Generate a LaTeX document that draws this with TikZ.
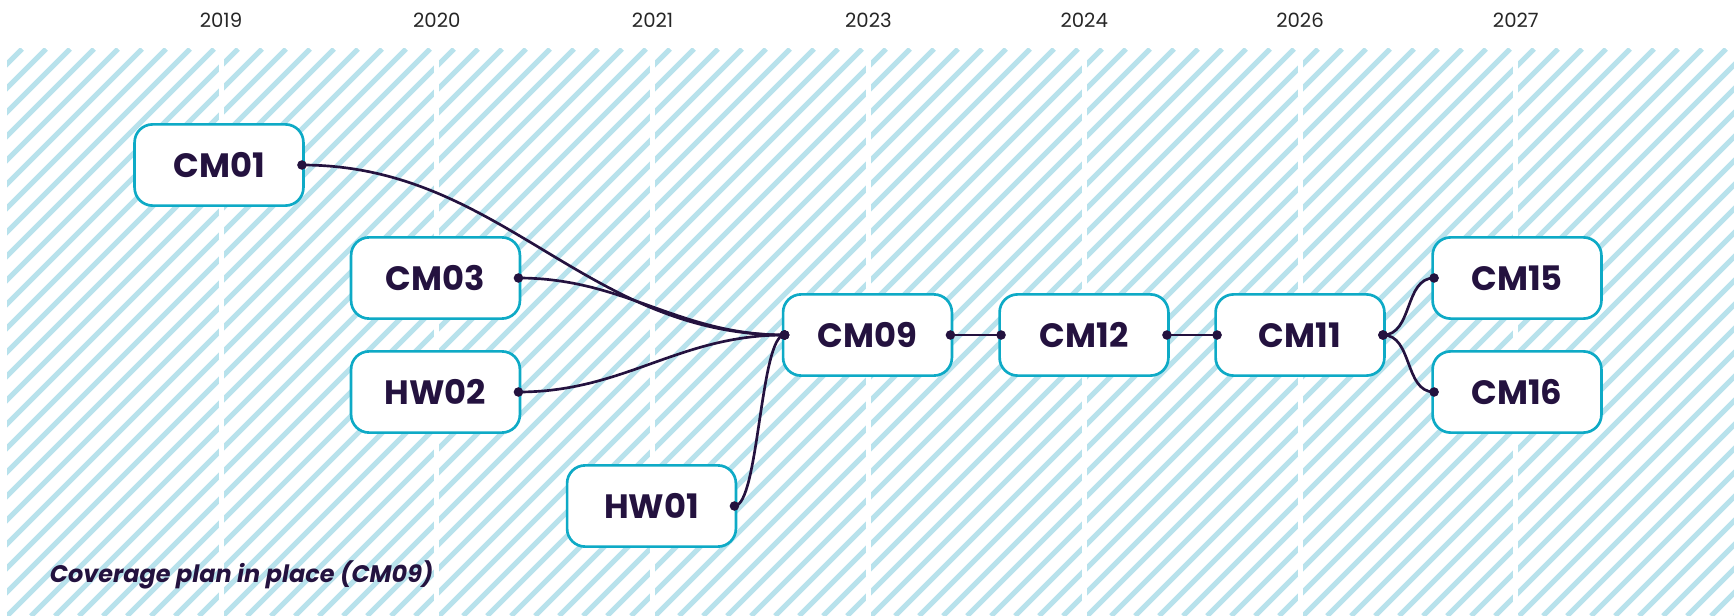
\documentclass[tikz,border=0pt]{standalone}
\usepackage{fontspec}
\setmainfont{Poppins}
\usepackage{xcolor}
\usepackage{tikz}
\usetikzlibrary{positioning}

\definecolor{ink}{HTML}{24123F}
\definecolor{boxedge}{HTML}{0EAAC6}
\definecolor{hatch}{HTML}{B8E2EC}

\begin{document}
\begin{tikzpicture}[
    x=0.025cm, y=-0.025cm,
    year/.style={font=\fontsize{14}{16}\selectfont, text=black!85},
    item/.style={draw=boxedge, line width=1.9pt, fill=white, rounded corners=0.45cm,
                 minimum width=4.22cm, minimum height=2.03cm, text=ink,
                 font=\fontsize{24}{28}\selectfont\bfseries},
    link/.style={draw=ink, line width=1.9pt}
]
\useasboundingbox (0,0) rectangle (1734,616);

% --- Hatched background, one band per year ---
\begin{scope}
  \clip (7,49) rectangle (1734,616);
  \foreach \k in {-24,...,73}
    \draw[hatch, line width=3.6pt] ({7+24*\k},616) -- ++(567,-567);
\end{scope}
\foreach \x/\yr in {221/2019, 436.8/2020, 652.6/2021, 868.4/2023,
                    1084.2/2024, 1300/2026, 1515.8/2027} {
  \fill[white] ({\x-2.5},49) rectangle ({\x+2.5},616);
  \node[year] (y\yr) at (\x,20) {\yr};
}

% --- Items ---
\node[item] (cm01) at (219,165)    {CM01};
\node[item] (cm03) at (435.5,278)  {CM03};
\node[item] (hw02) at (435.5,392)  {HW02};
\node[item] (hw01) at (651.5,506)  {HW01};
\node[item] (cm09) at (867.5,335)  {CM09};
\node[item] (cm12) at (1084,335)   {CM12};
\node[item] (cm11) at (1300,335)   {CM11};
\node[item] (cm15) at (1517,278)   {CM15};
\node[item] (cm16) at (1517,392)   {CM16};

% Dependencies, dot at both ends
\foreach \a/\b/\l in {cm01/cm09/1, cm03/cm09/1, hw02/cm09/1, hw01/cm09/0.35,
                      cm09/cm12/1, cm12/cm11/1, cm11/cm15/1, cm11/cm16/1} {
  \draw[link] ([xshift=-2pt]\a.east) to[out=0, in=180, looseness=\l] ([xshift=2pt]\b.west);
  \fill[ink] ([xshift=-2pt]\a.east) circle (3.4pt)
             ([xshift=2pt]\b.west) circle (3.4pt);
}

% --- Caption ---
\node[anchor=west, text=ink, font=\fontsize{17}{21}\selectfont\bfseries\itshape]
  (note) at (45,575) {Coverage plan in place (CM09)};

\end{tikzpicture}
\end{document}
